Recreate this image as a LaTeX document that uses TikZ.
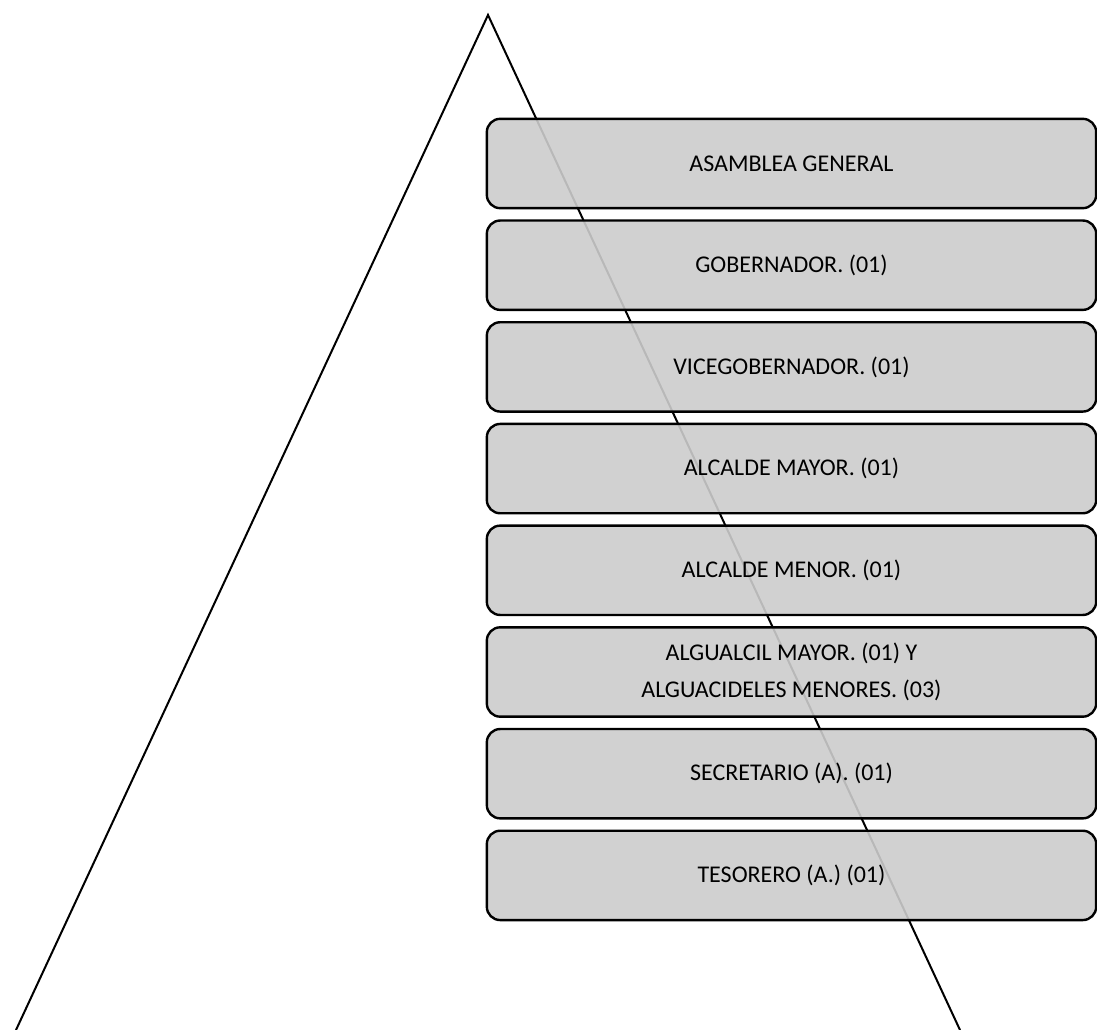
\documentclass[tikz,border=0pt]{standalone}
\usepackage{fontspec}
\setmainfont{Carlito}
\begin{document}
\begin{tikzpicture}[x=0.75pt,y=-0.75pt,
    cargo/.style={draw=black, line width=1.8pt, rounded corners=10pt,
        fill=black!20, fill opacity=0.9, text opacity=1,
        minimum width=457pt, minimum height=67pt, align=center,
        font=\fontsize{18}{27.5}\selectfont}]
    \useasboundingbox (0,0) rectangle (1097,1030);

    % Piramide
    \coordinate (cima) at (488,15);
    \coordinate (izq) at (16,1030);
    \coordinate (der) at (960,1030);
    \draw[line width=1.5pt] (izq) -- (cima) -- (der);

    % Cargos
    \node[cargo] (asamblea) at (791.5,163.5) {ASAMBLEA GENERAL};
    \node[cargo] (gobernador) at (791.5,265.2) {GOBERNADOR. (01)};
    \node[cargo] (vicegobernador) at (791.5,366.9) {VICEGOBERNADOR. (01)};
    \node[cargo] (alcaldemayor) at (791.5,468.6) {ALCALDE MAYOR. (01)};
    \node[cargo] (alcaldemenor) at (791.5,570.3) {ALCALDE MENOR. (01)};
    \node[cargo] (alguaciles) at (791.5,672) {ALGUALCIL MAYOR. (01) Y\\ALGUACIDELES MENORES. (03)};
    \node[cargo] (secretario) at (791.5,773.7) {SECRETARIO (A). (01)};
    \node[cargo] (tesorero) at (791.5,875.4) {TESORERO (A.) (01)};
\end{tikzpicture}
\end{document}
